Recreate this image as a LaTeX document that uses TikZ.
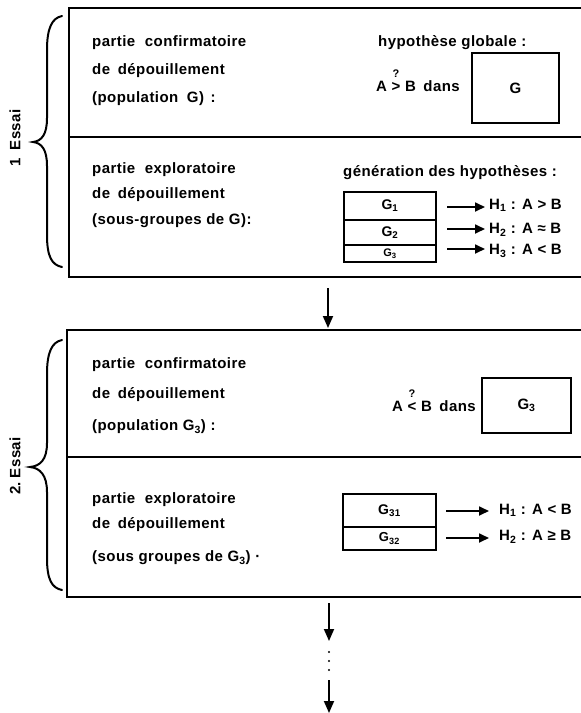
\documentclass[tikz,border=0pt]{standalone}
\usepackage{fontspec}
\setmainfont{Liberation Sans}[LetterSpace=3]
\usetikzlibrary{arrows.meta}
\newcommand\qover[1]{\ooalign{\hfil#1\hfil\cr\hfil\raisebox{14pt}{\fontsize{11}{11}\selectfont ?}\hfil\cr}}
\begin{document}
\begin{tikzpicture}[x=1pt,y=-1pt,
  frame/.style={line width=1.8pt},
  txt/.style={anchor=west,inner sep=0pt,font=\fontsize{15}{17}\selectfont\bfseries},
  lbl/.style={inner sep=0pt,font=\fontsize{15}{17}\selectfont\bfseries},
  hyp/.style={anchor=west,inner sep=0pt,font=\fontsize{15}{17}\selectfont\bfseries},
  arr/.style={line width=1.8pt,-{Triangle[length=12pt,width=10pt]}},
  sarr/.style={line width=1.7pt,-{Triangle[length=10pt,width=9pt]}},
  brace/.style={line width=2pt,line cap=round},
  sub/.style={draw,line width=1.6pt,inner sep=0pt,minimum width=92pt,font=\fontsize{14}{16}\selectfont\bfseries},
  bigbox/.style={draw,line width=1.7pt,inner sep=0pt,font=\fontsize{15}{17}\selectfont\bfseries}
]
\useasboundingbox (0,0) rectangle (581,713);

% ---------- Essai 1 ----------
\draw[frame] (581,8) -- (69,8) -- (69,277) -- (581,277);
\draw[frame] (69,137) -- (581,137);
\draw[brace] (62,16) .. controls (52,18) and (47,28) .. (47,50) -- (47,118)
  .. controls (47,134) and (42,141) .. (33,142)
  .. controls (42,143) and (47,150) .. (47,166) -- (47,235)
  .. controls (47,257) and (52,265) .. (62,267);
\node[lbl,rotate=90] (e1) at (15,138) {1\hspace{8pt}Essai};

\node[txt] (c1a) at (92,43) {partie\hspace{5pt} confirmatoire};
\node[txt] (c1b) at (92,71) {de\hspace{3pt} dépouillement};
\node[txt] (c1c) at (92,99) {(population\hspace{4pt} G)\hspace{2pt} :};
\node[txt] (hg) at (378,43) {hypothèse globale :};
\node[txt] (q1) at (376,86) {A \qover{>} B\hspace{3pt} dans};
\node[bigbox,minimum width=87pt,minimum height=70pt] (G) at (515.5,88) {G};

\node[txt] (x1a) at (92,170) {partie\hspace{5pt} exploratoire};
\node[txt] (x1b) at (92,195) {de\hspace{3pt} dépouillement};
\node[txt] (x1c) at (92,221) {(sous-groupes de G):};
\node[txt] (gh) at (343,173) {génération des hypothèses :};

\node[sub,minimum height=28pt] (g1) at (390,206) {G\textsubscript{1}};
\node[sub,minimum height=25pt] (g2) at (390,232.5) {G\textsubscript{2}};
\node[sub,minimum height=17pt,font=\fontsize{11}{12}\selectfont\bfseries] (g3) at (390,253.5) {G\textsubscript{3}};

\node[hyp] (h1) at (489,205) {H\textsubscript{1} : A > B};
\node[hyp] (h2) at (489,230) {H\textsubscript{2} : A ≈ B};
\node[hyp] (h3) at (489,251) {H\textsubscript{3} : A < B};
\coordinate (s1) at (447,207);
\coordinate (s2) at (447,229);
\coordinate (s3) at (447,249);
\draw[sarr] (s1) -- ([xshift=-4pt]s1 -| h1.west);
\draw[sarr] (s2) -- ([xshift=-4pt]s2 -| h2.west);
\draw[sarr] (s3) -- ([xshift=-4pt]s3 -| h3.west);

% ---------- link ----------
\coordinate (b1) at (328,277);
\coordinate (t2) at (328,330);
\draw[arr,shorten <=11pt,shorten >=2pt] (b1) -- (t2);

% ---------- Essai 2 ----------
\draw[frame] (581,330) -- (67,330) -- (67,597) -- (581,597);
\draw[frame] (67,457) -- (581,457);
\draw[brace] (62,340) .. controls (52,342) and (47,352) .. (47,374) -- (47,443)
  .. controls (47,460) and (40,466) .. (30,467)
  .. controls (40,468) and (47,475) .. (47,492) -- (47,558)
  .. controls (47,580) and (52,588) .. (62,590);
\node[lbl,rotate=90] (e2) at (15,466) {2.\hspace{4pt}Essai};

\node[txt] (c2a) at (92,365) {partie\hspace{5pt} confirmatoire};
\node[txt] (c2b) at (92,395) {de\hspace{3pt} dépouillement};
\node[txt] (c2c) at (92,427) {(population G\textsubscript{3}) :};
\node[txt] (q2) at (392,406) {A \qover{<} B\hspace{3pt} dans};
\node[bigbox,minimum width=89pt,minimum height=55pt] (G3) at (526.5,405.5) {G\textsubscript{3}};

\node[txt] (x2a) at (92,500) {partie\hspace{5pt} exploratoire};
\node[txt] (x2b) at (92,525) {de\hspace{3pt} dépouillement};
\node[txt] (x2c) at (92,558) {(sous groupes de G\textsubscript{3}) ·};

\node[sub,minimum width=93pt,minimum height=33pt] (g31) at (389.5,510.5) {G\textsubscript{31}};
\node[sub,minimum width=93pt,minimum height=23pt,font=\fontsize{13}{14}\selectfont\bfseries] (g32) at (389.5,538.5) {G\textsubscript{32}};

\node[hyp] (k1) at (499,510) {H\textsubscript{1} : A < B};
\node[hyp] (k2) at (499,537) {H\textsubscript{2} : A ≥ B};
\coordinate (r1) at (446,511);
\coordinate (r2) at (446,538);
\draw[sarr] (r1) -- ([xshift=-10pt]r1 -| k1.west);
\draw[sarr] (r2) -- ([xshift=-10pt]r2 -| k2.west);

% ---------- continuation ----------
\coordinate (b2) at (329,597);
\coordinate (d1) at (329,641);
\coordinate (d2) at (329,680);
\coordinate (dend) at (329,713);
\draw[arr,shorten <=6pt] (b2) -- (d1);
\fill (329,652) circle (1.2pt) (329,661) circle (1.2pt) (329,670) circle (1.2pt);
\draw[arr] (d2) -- (dend);
\end{tikzpicture}
\end{document}
